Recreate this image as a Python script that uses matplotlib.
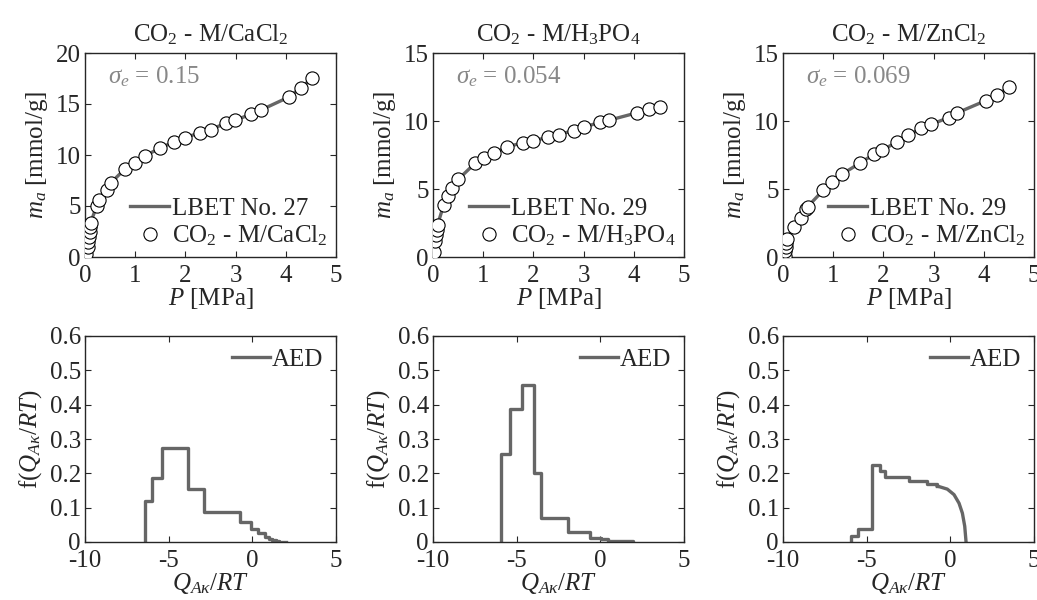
import numpy as np
import matplotlib as mpl
from matplotlib import pyplot as plt

mpl.rcParams.update({
    "font.family": ["Liberation Serif", "DejaVu Serif"],
    "font.size": 18,
    "mathtext.fontset": "custom",
    "mathtext.rm": "Liberation Serif",
    "mathtext.it": "Liberation Serif:italic",
    "mathtext.bf": "Liberation Serif:bold",
    "axes.unicode_minus": False,
    "axes.linewidth": 1.0,
    "axes.edgecolor": "#262626",
    "xtick.color": "#262626",
    "ytick.color": "#262626",
    "text.color": "#262626",
    "axes.labelcolor": "#262626",
    "xtick.direction": "in",
    "ytick.direction": "in",
    "xtick.top": True,
    "ytick.right": True,
    "xtick.major.size": 4,
    "ytick.major.size": 4,
    "xtick.major.pad": 6,
    "ytick.major.pad": 3,
})

############# Data ########
titles = [r"CO$_2$ - M/CaCl$_2$", r"CO$_2$ - M/H$_3$PO$_4$", r"CO$_2$ - M/ZnCl$_2$"]
fit_labels = ["LBET No. 27", "LBET No. 29", "LBET No. 29"]
sigma_e = ["0.15", "0.054", "0.069"]
ymax_iso = [20, 15, 15]

# isotherms: pressure [MPa], adsorbed amount [mmol/g]
p_cacl2 = [0.02, 0.05, 0.05, 0.07, 0.09, 0.10, 0.11, 0.23, 0.28, 0.43, 0.52, 0.79, 1.00, 1.19,
           1.50, 1.78, 1.99, 2.30, 2.50, 2.80, 2.99, 3.30, 3.50, 4.07, 4.30, 4.52]
m_cacl2 = [0.26, 0.98, 1.5, 2.0, 2.45, 2.9, 3.3, 5.0, 5.55, 6.6, 7.3, 8.6, 9.2, 9.9,
           10.7, 11.3, 11.7, 12.2, 12.5, 13.1, 13.4, 14.0, 14.4, 15.7, 16.6, 17.5]
p_h3po4 = [0.01, 0.03, 0.05, 0.07, 0.09, 0.21, 0.29, 0.38, 0.50, 0.84, 1.02, 1.22, 1.48,
           1.79, 1.99, 2.30, 2.51, 2.80, 3.01, 3.32, 3.50, 4.06, 4.30, 4.52]
m_h3po4 = [0.37, 1.2, 1.6, 2.0, 2.35, 3.8, 4.5, 5.1, 5.7, 6.9, 7.3, 7.65, 8.1,
           8.4, 8.55, 8.8, 9.0, 9.3, 9.55, 9.9, 10.05, 10.6, 10.85, 11.0]
p_zncl2 = [0.03, 0.03, 0.05, 0.06, 0.08, 0.21, 0.35, 0.45, 0.49, 0.80, 0.98, 1.18, 1.53,
           1.81, 1.97, 2.27, 2.49, 2.75, 2.95, 3.30, 3.47, 4.04, 4.27, 4.50]
m_zncl2 = [0.05, 0.45, 0.75, 1.0, 1.3, 2.2, 2.87, 3.5, 3.7, 4.9, 5.55, 6.1, 6.9,
           7.55, 7.85, 8.45, 8.95, 9.45, 9.75, 10.25, 10.6, 11.5, 11.9, 12.5]

# adsorption energy distributions (post steps + smooth tail)
q_cacl2 = [-6.4, -6.4, -6.02, -5.42, -3.82, -2.87, -0.74, -0.1, 0.36, 0.76, 1.0, 1.2, 1.4, 1.6, 2.0]
f_cacl2 = [0, 0.12, 0.186, 0.275, 0.155, 0.088, 0.058, 0.038, 0.027, 0.016, 0.010, 0.006, 0.003, 0.001, 0]
q_h3po4 = [-5.92, -5.92, -5.38, -4.66, -3.96, -3.53, -1.93, -0.6, 0.06, 0.46, 1.95]
f_h3po4 = [0, 0.256, 0.388, 0.458, 0.2, 0.07, 0.028, 0.013, 0.008, 0.004, 0]
q_zncl2 = [-5.96, -5.96, -5.5, -4.67, -4.2, -3.9, -2.47, -1.38, -0.78]
f_zncl2 = [0, 0.0175, 0.037, 0.225, 0.207, 0.19, 0.178, 0.17, 0.163]
q_zncl2_tail = [-0.78, -0.18, 0.22, 0.52, 0.72, 0.86, 0.94]
f_zncl2_tail = [0.163, 0.154, 0.138, 0.113, 0.084, 0.046, 0]

pressures = [p_cacl2, p_h3po4, p_zncl2]
amounts = [m_cacl2, m_h3po4, m_zncl2]
aed_q = [q_cacl2, q_h3po4, q_zncl2]
aed_f = [f_cacl2, f_h3po4, f_zncl2]

############# Plotting ########
line_col = "#666666"
fig = plt.figure(figsize=(10.37, 6.0), dpi=100)
lefts = [85 / 1037, 433 / 1037, 783 / 1037]
w = 251 / 1037

for i in range(3):
    # top row: isotherm with fit
    ax = fig.add_axes([lefts[i], 1 - 257 / 600, w, 204 / 600])
    ax.plot(pressures[i], amounts[i], color=line_col, lw=2.4, label=fit_labels[i], zorder=2)
    ax.plot(pressures[i], amounts[i], 'o', ms=9.5, mfc='white', mec='black', mew=0.8,
            label=titles[i], zorder=3)
    ax.set_xlim(0, 5)
    ax.set_ylim(0, ymax_iso[i])
    ax.set_xticks(range(0, 6))
    ax.set_yticks(np.arange(0, ymax_iso[i] + 1, 5))
    ax.set_xlabel(r"$P$ [MPa]", labelpad=-1)
    ax.set_ylabel(r"$m_a$ [mmol/g]", labelpad=4)
    ax.set_title(titles[i], fontsize=18, pad=8)
    ax.text(0.09, 0.885, r"$\sigma_e$ = " + sigma_e[i], transform=ax.transAxes,
            color="#888888", fontsize=18, va='center')
    ax.legend(loc='lower right', frameon=False, handlelength=1.55, handletextpad=0.1,
              borderaxespad=0.15, labelspacing=0.15, borderpad=0.2, fontsize=18)

    # bottom row: AED
    bx = fig.add_axes([lefts[i], 1 - 542 / 600, w, 206 / 600])
    bx.step(aed_q[i], aed_f[i], where='post', color=line_col, lw=2.4, label="AED")
    if i == 2:
        bx.plot(q_zncl2_tail, f_zncl2_tail, color=line_col, lw=2.4)
    bx.set_xlim(-10, 5)
    bx.set_ylim(0, 0.6)
    bx.set_xticks([-10, -5, 0, 5])
    bx.set_yticks(np.arange(0, 0.61, 0.1))
    bx.set_yticklabels(["0", "0.1", "0.2", "0.3", "0.4", "0.5", "0.6"])
    bx.set_xlabel(r"$Q_{A\kappa}/RT$", labelpad=-1)
    bx.set_ylabel(r"f($Q_{A\kappa}/RT$)", labelpad=4)
    bx.legend(loc='upper right', frameon=False, handlelength=1.5, handletextpad=0.1,
              borderaxespad=0.3, borderpad=0.2, fontsize=18)

plt.savefig("out.png", dpi=100)
plt.close()
